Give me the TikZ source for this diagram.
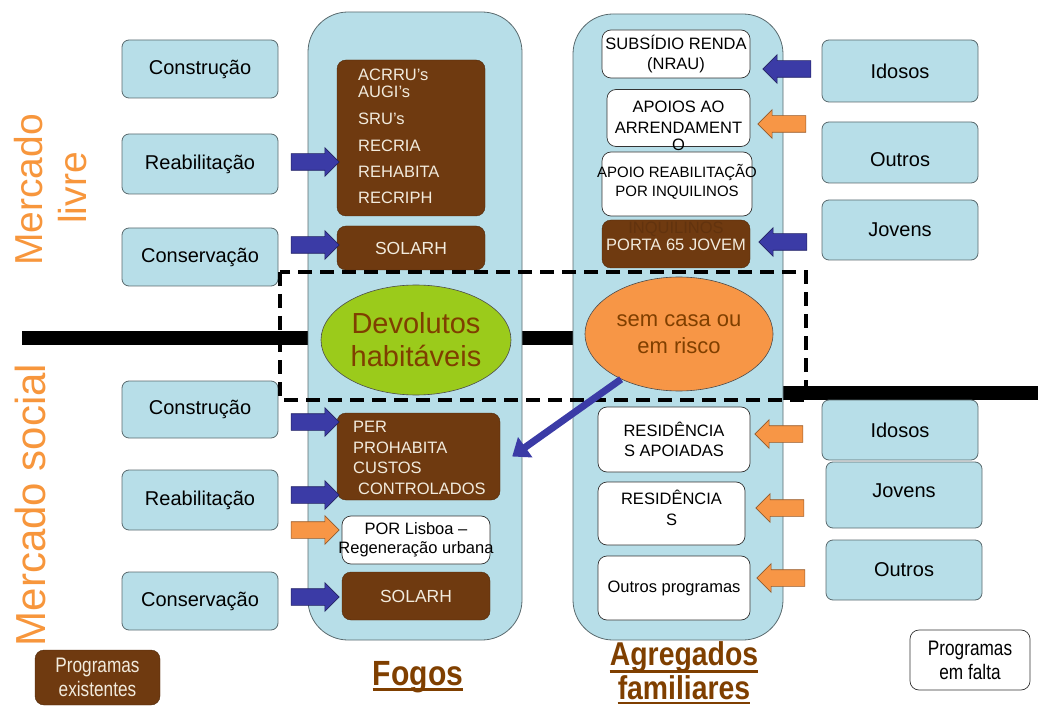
\documentclass[tikz,border=0pt]{standalone}
\usepackage{fontspec}
\setmainfont{Liberation Sans}
\usepackage{graphicx}
\usetikzlibrary{shapes.geometric,shapes.arrows,arrows.meta,calc}
\definecolor{lblue}{HTML}{B7DEE8}
\definecolor{boxline}{HTML}{5A6A6E}
\definecolor{brownbox}{HTML}{6F3A10}
\definecolor{brownt}{HTML}{7F3F00}
\definecolor{orangeA}{HTML}{F79646}
\definecolor{blueA}{HTML}{3B3BA6}
\definecolor{greenE}{HTML}{9BCB1B}
\definecolor{orangeT}{HTML}{F7963C}
\definecolor{creamt}{HTML}{F2EBDD}
\newcommand{\fs}[1]{\fontsize{#1}{#1}\selectfont}
\begin{document}
\begin{tikzpicture}[x=1pt,y=-1pt,
  sidebox/.style={draw=boxline, fill=lblue, rounded corners=7pt, line width=0.8pt, font=\fs{20}, inner sep=0pt},
  sidetxt/.style={font=\fs{20}, inner sep=0pt},
  container/.style={draw=boxline, fill=lblue, rounded corners=40pt, line width=0.8pt},
  progbox/.style={draw=brownbox!70!black, fill=brownbox, rounded corners=9pt, text=creamt, font=\fs{16.5}, align=center, inner sep=0pt},
  missbox/.style={draw=black!80, fill=white, rounded corners=9pt, font=\fs{16.5}, align=center, inner sep=0pt, line width=0.7pt},
  progtxt/.style={text=creamt, font=\fs{16.5}, anchor=west, inner sep=0pt},
  misstxt/.style={font=\fs{16.5}, align=center, inner sep=0pt},
  barrow/.style={single arrow, draw=#1!60!black, fill=#1, line width=0.6pt, minimum height=48pt, inner xsep=0pt, inner ysep=8pt, single arrow head extend=6pt, single arrow head indent=0pt},
  barrowL/.style={barrow=#1, shape border rotate=180},
  ell/.style={ellipse, draw=black!70, line width=0.6pt, align=center, text=brownt, inner sep=0pt},
  mercado/.style={text=orangeT, rotate=90, align=center, inner sep=0pt},
  title/.style={text=brownt, font=\bfseries\fs{35}, inner sep=0pt}
]
\useasboundingbox (0,0) rectangle (1038,708);

% thick black line
\draw[line width=14pt] (22,338) -- (640,338);
\draw[line width=14pt] (740,393) -- (1038,393);

% containers
\node[container, minimum width=214pt, minimum height=628pt] (fogosbox) at (415,326) {};
\node[container, minimum width=210pt, minimum height=626pt] (agrbox) at (678,327) {};

% left boxes
\node[sidebox, minimum width=156pt, minimum height=58pt] (constr1) at (200,69) {Construção};
\node[sidebox, minimum width=156pt, minimum height=60pt] (reab1) at (200,164) {Reabilitação};
\node[sidebox, minimum width=156pt, minimum height=58pt] (cons1) at (200,257) {Conservação};
\node[sidebox, minimum width=156pt, minimum height=57pt] (constr2) at (200,409.5) {Construção};
\node[sidebox, minimum width=156pt, minimum height=60pt] (reab2) at (200,500) {Reabilitação};
\node[sidebox, minimum width=156pt, minimum height=58pt] (cons2) at (200,601) {Conservação};

% right boxes
\node[sidebox, minimum width=156pt, minimum height=62pt] (idosos1) at (900,71) {Idosos};
\node[sidebox, minimum width=156pt, minimum height=61pt] (outros1) at (900,152.5) {};
\node[sidetxt] at (900,160) {Outros};
\node[sidebox, minimum width=156pt, minimum height=60pt] (jovens1) at (900,230) {Jovens};
\node[sidebox, minimum width=156pt, minimum height=60pt] (idosos2) at (900,430) {Idosos};
\node[sidebox, minimum width=156pt, minimum height=66pt] (jovens2) at (904,495) {};
\node[sidetxt] at (904,491) {Jovens};
\node[sidebox, minimum width=156pt, minimum height=60pt] (outros2) at (904,570) {Outros};

% Fogos programmes
\node[progbox, minimum width=148pt, minimum height=156pt] (acrru) at (411,138) {};
\node[progtxt] at (358,75) {ACRRU's};
\node[progtxt] at (358,92) {AUGI's};
\node[progtxt] at (358,119) {SRU's};
\node[progtxt] at (358,146) {RECRIA};
\node[progtxt] at (358,172) {REHABITA};
\node[progtxt] at (358,198) {RECRIPH};
\node[progbox, minimum width=148pt, minimum height=44pt, font=\fs{17.5}] (solarh1) at (411,248) {SOLARH};

\node[progbox, minimum width=163pt, minimum height=87pt] (per) at (418.5,456.5) {};
\node[progtxt] at (353,427) {PER};
\node[progtxt] at (353,448) {PROHABITA};
\node[progtxt] at (353,468) {CUSTOS};
\node[progtxt] at (358,489) {CONTROLADOS};
\node[missbox, minimum width=148pt, minimum height=48pt] (por) at (416,540) {};
\node[misstxt] at (416,540) {POR Lisboa –\\[3pt]Regeneração urbana};
\node[progbox, minimum width=148pt, minimum height=48pt, font=\fs{17.5}] (solarh2) at (416,596) {SOLARH};

% Agregados programmes
\node[missbox, minimum width=148pt, minimum height=48pt] (subs) at (676,54) {SUBSÍDIO RENDA\\[3pt](NRAU)};
\node[missbox, minimum width=143pt, minimum height=57pt] (apoios) at (678.5,118) {};
\node[missbox, minimum width=150pt, minimum height=64pt] (apoioreab) at (677,184) {};
\node[misstxt] at (678.5,126) {APOIOS AO\\[4pt]ARRENDAMENT\\[1pt]O};
\node[misstxt, font=\fs{15}] at (677,182) {APOIO REABILITAÇÃO\\[4pt]POR INQUILINOS};
\node[progbox, minimum width=148pt, minimum height=48pt] (porta) at (676,244) {};
\node[progtxt, anchor=center, text=brownbox!88!black] at (676,229) {INQUILINOS};
\node[progtxt, anchor=center] at (676,245) {PORTA 65 JOVEM};

\node[missbox, minimum width=152pt, minimum height=65pt] (resap) at (674,439.5) {RESIDÊNCIA\\[4pt]S APOIADAS};
\node[missbox, minimum width=147pt, minimum height=63pt] (res) at (671.5,513.5) {};
\node[misstxt] at (671.5,508) {RESIDÊNCIA\\[4pt]S};
\node[missbox, minimum width=152pt, minimum height=64pt] (outprog) at (674,588) {Outros programas};

% ellipses
\node[ell, fill=greenE, minimum width=190pt, minimum height=110pt, font=\fs{29}] (devol) at (416,340) {Devolutos\\[4pt]habitáveis};
\node[ell, fill=orangeA, minimum width=188pt, minimum height=114pt, font=\fs{22}] (semcasa) at (679,334) {sem casa ou\\[5pt]em risco};

% dashed rectangle
\draw[line width=3.5pt, dash pattern=on 14pt off 8pt] (280,272) rectangle (806,400);

% block arrows left side
\node[barrow=blueA] (a1) at (311,162) {};
\node[barrow=blueA] (a2) at (311,245) {};
\node[barrow=blueA] (a3) at (311,422) {};
\node[barrow=blueA] (a4) at (311,495) {};
\node[barrow=orangeA] (a5) at (311,530) {};
\node[barrow=blueA] (a6) at (311,597) {};
% block arrows right side
\node[barrowL=blueA] (b1) at (791,69) {};
\node[barrowL=orangeA] (b2) at (786,124) {};
\node[barrowL=blueA] (b3) at (787,242) {};
\node[barrowL=orangeA] (b4) at (783,434) {};
\node[barrowL=orangeA] (b5) at (784,508) {};
\node[barrowL=orangeA] (b6) at (785,578) {};

% diagonal arrow
\draw[blueA, line width=7pt, -{Triangle[length=16pt,width=24pt]}] (semcasa.218) -- ($(per.east)+(12,0)$);

% side labels
\node[mercado, font=\fs{39}] (ml1) at (29,190) {Mercado};
\node[mercado, font=\fs{39}] (ml2) at (73,188) {livre};
\node[mercado, font=\fs{42}] (ms) at (30,505) {Mercado social};

% titles
\node[title] (fogos) at (418,677) {\scalebox{0.86}[1]{Fogos}};
\draw[brownt, line width=2.5pt] ([yshift=-4pt]fogos.base west) -- ([yshift=-4pt]fogos.base east);
\node[title, font=\bfseries\fs{33}] (agr1) at (684,657) {\scalebox{0.86}[1]{Agregados}};
\draw[brownt, line width=2.5pt] ([yshift=-6pt]agr1.base west) -- ([yshift=-6pt]agr1.base east);
\node[title, font=\bfseries\fs{33}] (agr2) at (684,688) {\scalebox{0.86}[1]{familiares}};
\draw[brownt, line width=2.5pt] ([yshift=-3pt]agr2.base west) -- ([yshift=-3pt]agr2.base east);

% legend
\node[progbox, minimum width=125pt, minimum height=55pt, font=\fs{21}] (legex) at (97.5,677.5) {\scalebox{0.82}[1]{Programas}\\[3pt]\scalebox{0.82}[1]{existentes}};
\node[missbox, minimum width=120pt, minimum height=60pt, font=\fs{21}] (legmiss) at (970,660) {\scalebox{0.82}[1]{Programas}\\[3pt]\scalebox{0.82}[1]{em falta}};
\end{tikzpicture}
\end{document}
